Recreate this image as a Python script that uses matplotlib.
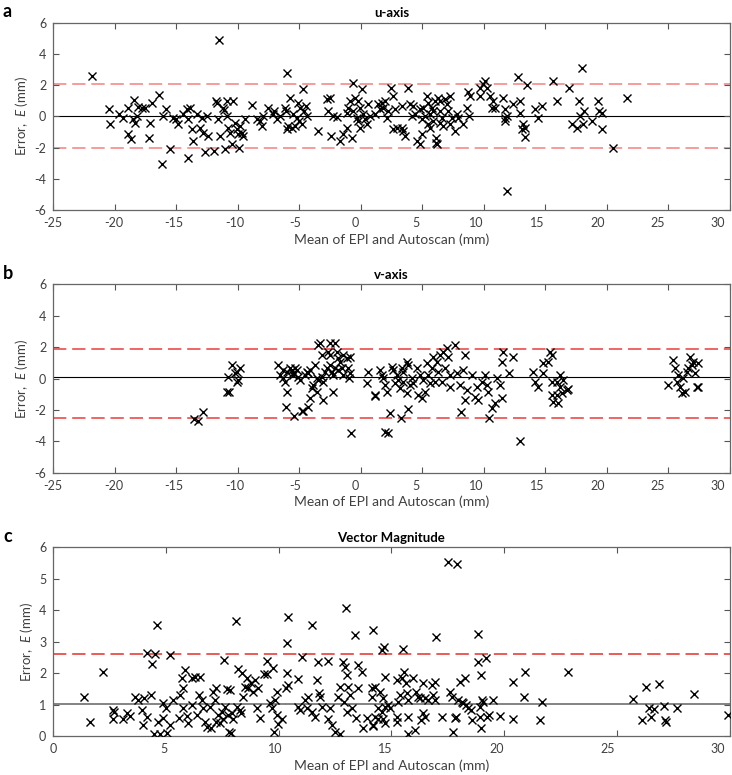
import numpy as np
import matplotlib
matplotlib.use('Agg')
import matplotlib.pyplot as plt
import matplotlib.transforms as mtransforms

plt.rcParams['font.family'] = ['Lato', 'DejaVu Sans']
plt.rcParams['mathtext.fontset'] = 'custom'
plt.rcParams['mathtext.it'] = 'Lato:italic'
plt.rcParams['mathtext.rm'] = 'Lato'
plt.rcParams['axes.unicode_minus'] = False

# ---- u-axis (panel a): mean of EPI and Autoscan vs. error, mm
u_mean = [-21.87, -11.52, -6.02, -20.43, -20.38, -19.62, -19.30, -18.89, -18.43, -18.92,
          -18.70, -18.48, -18.35, -18.21, -18.08, -17.80, -17.53, -16.99, -17.13, -17.18,
          -16.37, -16.10, -15.85, -16.12, -15.50, -15.23, -15.04, -14.82, -14.42, -14.15,
          -13.88, -14.01, -14.01, -13.74, -13.66, -13.28, -13.06, -12.87, -12.79, -12.66,
          -12.47, -12.38, -11.92, -11.76, -11.65, -11.57, -11.44, -11.22, -11.11, -10.89,
          -10.89, -11.03, -10.76, -10.62, -10.49, -10.35, -10.22, -10.08, -9.95, -9.86,
          -9.81, -9.67, -9.54, -9.40, -8.81, -8.46, -8.18, -8.05, -7.91, -7.51,
          -7.15, -7.05, -6.83, -6.56, -6.15, -6.07, -6.02, -5.88, -5.75, -5.61,
          -5.47, -5.34, -5.20, -5.07, -5.01, -4.93, -4.80, -4.61, -4.66, -4.47,
          -4.34, -3.44, -2.76, -2.49, -2.63, -2.44, -2.22, -1.95, -1.68, -1.41,
          -1.14, -1.14, -1.00, -0.87, -0.73, -0.65, -0.60, -0.46, -0.19, -0.05,
          0.08, -0.33, -0.19, -0.05, 0.22, 0.35, 0.49, 0.62, 0.76,
          1.16, 1.43, 1.57, 1.71, 1.84, 1.98, 2.25, 2.11, 2.44, 2.65,
          2.79, 2.92, 2.65, 3.33, 3.33, 3.47, 3.60, 3.87, 4.01, 4.14,
          4.28, 4.42, 4.55, 4.82, 4.96, 4.82, 4.96, 5.09, 5.23, 5.36,
          5.50, 5.50, 5.63, 5.63, 5.77, 5.91, 5.91, 6.04, 6.12, 6.12,
          6.18, 6.31, 6.45, 6.45, 6.45, 6.58, 6.72, 6.85, 6.99, 7.12,
          7.26, 7.40, 7.26, 7.67, 7.80, 7.94, 8.34, 8.62, 8.75, 8.89,
          8.83, 9.70, 9.92, 10.11, 9.70, 10.24, 10.51, 10.78, 10.65, 10.92,
          11.60, 11.73, 11.73, 11.73, 11.87, 11.92, 12.41, 12.82, 12.95, 12.95,
          13.09, 13.22, 13.36, 13.49, 13.36, 14.17, 14.44, 14.71, 15.66, 15.93,
          16.96, 17.15, 17.56, 17.77, 17.83, 18.02, 18.10, 18.16, 18.78, 19.32,
          19.40, 19.59, 19.65, 20.49, 21.68]
u_diff = [2.59, 4.87, 2.80, 0.45, -0.47, 0.13, -0.09, 0.56, 1.03, -1.11,
          -1.47, -0.19, -0.41, 0.02, 0.60, 0.51, 0.56, 0.88, -0.41, -1.37,
          1.35, 0.02, 0.45, -3.03, -2.12, -0.13, -0.19, -0.51, 0.13, 0.45,
          0.56, -0.19, -2.65, -0.83, -1.58, 0.13, -0.73, -0.09, -1.05, -2.26,
          0.02, -1.26, -2.22, 0.98, 0.88, -0.19, -1.26, 0.56, 0.41, 0.02,
          0.98, -2.12, -0.73, -1.05, -1.79, 0.98, -0.41, -0.83, -1.15, -2.01,
          -0.62, -1.05, -1.26, -0.19, 0.73, -0.19, -0.30, -0.62, 0.02, 0.56,
          0.13, 0.34, -0.19, 0.02, 0.56, 0.34, -0.83, -0.62, 1.20, -0.73,
          0.13, -0.62, -0.09, 0.88, -0.30, 0.56, -0.51, 0.34, 1.73, 0.66,
          0.02, -0.94, 1.09, 1.20, 0.34, -1.26, 0.02, -0.04, -1.58, -1.15,
          -0.73, 0.24, 0.56, 0.98, -1.37, 2.16, 0.34, 1.20, 0.98, 0.56,
          1.73, -0.13, -0.30, -0.73, 0.13, -0.19, -0.51, 0.77, 0.02,
          0.13, 0.77, 0.45, 0.88, 0.56, 0.98, 0.34, -0.09, 1.79, 1.30,
          0.45, -0.73, -0.83, -0.73, 0.66, -0.94, -1.26, 1.79, 0.77, 0.02,
          0.66, 0.13, -1.58, -1.79, -1.15, 0.45, -0.19, 0.56, 0.02, 1.30,
          0.88, -0.51, 0.13, -0.73, 0.56, 0.34, -0.30, 0.98, -1.37, -1.69,
          -1.79, 1.20, 0.98, 0.34, -0.41, -0.09, -0.62, 1.09, 0.77, 0.34,
          1.30, -0.09, -0.51, -0.94, 0.13, -0.09, -0.47, 0.56, 1.58, 1.30,
          0.02, 1.84, 2.05, 2.26, 1.30, 1.79, 1.30, 0.98, 0.56, 0.56,
          1.20, 0.45, -0.09, -0.30, 0.02, -4.79, 0.77, 2.52, 0.98, 0.24,
          -0.83, -0.51, -0.73, 2.01, -1.32, 0.45, -0.09, 0.66, 2.26, 0.98,
          1.84, -0.51, -0.73, 0.98, 0.02, 3.12, -0.51, 0.34, -0.30, 0.98,
          0.34, 0.24, -0.79, -2.01, 1.20]
u_bias = 0.04
u_loa = [2.09, -2.01]

# ---- v-axis (panel b)
v_mean = [-13.52, -13.20, -12.85, -10.89, -10.68, -10.76, -10.49, -10.22, -10.08, -10.03,
          -9.95, -9.81, -6.69, -6.56, -6.34, -6.29, -6.15, -6.02, -5.96, -6.07,
          -5.75, -5.61, -5.47, -5.34, -5.20, -5.47, -5.39, -5.07, -4.93, -4.53,
          -4.39, -4.25, -4.12, -4.80, -4.66, -4.12, -4.25, -3.98, -3.85, -3.71,
          -3.58, -3.44, -3.58, -3.44, -3.31, -3.17, -3.17, -3.04, -3.04, -2.90,
          -2.76, -2.63, -2.49, -2.49, -2.49, -2.36, -2.22, -2.22, -2.09, -2.09,
          -1.95, -1.82, -1.82, -1.68, -1.54, -1.41, -1.41, -1.14, -1.00, -0.87,
          -0.87, -0.92, -0.79, 0.49, 0.62, 1.17,
          1.16, 1.57, 1.71, 1.84, 1.98, 2.11, 1.98, 2.25, 2.38, 2.52,
          2.65, 2.79, 2.92, 3.06, 3.20, 3.25, 3.33, 3.47, 3.47, 3.74,
          3.74, 3.87, 3.87, 4.01, 4.14, 4.28, 4.55, 4.69, 4.82, 4.96,
          5.09, 5.23, 5.36, 5.50, 5.63, 5.77, 5.91, 6.04, 6.18, 6.31,
          6.45, 6.58, 6.72, 6.85, 6.99, 7.12, 7.26, 7.26, 7.67, 7.80,
          8.07, 8.13, 8.34, 8.48, 8.62, 8.48, 9.02, 9.29, 9.43, 9.56,
          9.83, 10.11, 10.24, 10.38, 10.46, 10.65, 10.92, 11.05, 11.33, 11.46,
          11.46, 11.60, 12.08, 12.36, 12.95, 14.04, 14.17, 14.44, 14.85, 14.85,
          15.26, 15.39, 15.53, 15.53, 15.53, 15.66, 15.93, 15.93, 16.07, 16.20,
          16.20, 16.34, 16.47, 16.75, 16.88, 25.01, 25.42, 25.55, 25.69, 25.82,
          25.96, 26.09, 26.23, 26.37, 26.50, 26.64, 26.77, 26.91, 27.04, 27.18,
          27.31, 27.45, 27.45]
v_diff = [-2.60, -2.69, -2.11, -0.84, -0.88, 0.12, 0.86, 0.33, 0.44, -0.20,
          -0.10, 0.65, 0.86, 0.22, 0.54, 0.01, -0.20, -0.88, 0.44, -1.79,
          0.65, 0.54, 0.33, 0.65, 0.54, 0.22, -2.39, 0.12, -0.10, 0.22,
          0.44, 0.33, 0.54, -2.05, -2.07, -1.26, -1.79, -0.63, -0.41, 0.86,
          0.01, -0.10, -0.84, 2.13, 2.24, 1.50, 0.12, -0.20, -1.37, 0.44,
          0.65, 1.71, 2.24, 1.50, 0.86, 0.44, 0.22, -0.84, 2.24, 0.65,
          1.71, 1.28, 0.54, 1.07, 0.65, 0.22, 1.50, 1.28, 0.65, 1.39,
          0.33, 0.05, -3.49, -0.31, 0.44, -1.05,
          -1.09, 0.54, 0.22, 0.01, -0.41, -0.84, -3.39, -3.49, -2.22, 0.75,
          0.54, -0.31, 0.22, -0.10, -0.63, -2.54, 0.65, 0.44, -0.20, -0.94,
          1.07, -1.96, 0.86, -0.41, 0.01, -0.31, 0.65, -1.05, 0.22, -1.26,
          -0.10, -0.84, 0.97, 0.22, -0.31, 0.65, 1.39, -0.20, 1.07, 0.44,
          1.50, -0.20, 1.71, 0.65, 1.92, 1.39, 0.22, -0.52, 2.13, 0.33,
          -0.41, -2.11, 0.54, 1.50, -0.73, -1.37, 0.22, -1.16, -0.52, -1.37,
          -0.20, 0.22, -0.41, -0.84, -2.54, -1.90, -1.58, 0.01, -0.41, -1.26,
          1.07, 1.71, 0.33, 1.39, -3.96, 0.44, -0.20, -0.56, 0.33, 0.97,
          1.07, 1.71, 1.50, -0.20, -1.05, -1.48, -0.20, -1.05, -1.58, 0.22,
          -0.52, -0.94, -0.10, -0.73, -0.67, -0.41, 1.18, 0.65, -0.20, 0.22,
          -0.52, -0.94, 0.01, -0.84, 0.44, 0.65, 1.39, 0.86, 1.07, 0.33,
          -0.52, 0.97, -0.52]
v_bias = 0.12
v_loa = [1.88, -2.49]

# ---- vector magnitude (panel c)
m_mean = [1.37, 1.63, 2.22, 2.67, 2.70, 2.67, 3.08, 3.26, 3.41, 3.63,
          3.78, 3.92, 3.97, 4.03, 4.15, 4.32, 4.37, 4.15, 4.52, 4.62,
          4.47, 4.66, 4.74, 4.89, 4.89, 4.99, 5.06, 5.18, 5.18, 5.33,
          5.58, 5.62, 5.70, 5.74, 5.77, 5.84, 5.92, 5.99, 6.14, 6.14,
          6.29, 6.36, 6.48, 6.51, 6.58, 6.66, 6.73, 6.81, 6.95, 7.02,
          7.10, 7.17, 7.24, 7.24, 7.32, 7.40, 7.47, 7.52, 7.57, 7.61,
          7.69, 7.77, 7.81, 7.84, 7.87, 7.94, 7.99, 8.11, 8.14, 8.21,
          8.28, 8.31, 8.39, 8.43, 8.51, 8.58, 8.65, 8.76, 8.87, 8.95,
          9.02, 9.10, 9.17, 9.36, 9.47, 9.50, 9.61, 9.69, 9.76, 9.79,
          9.84, 9.91, 9.91, 9.98, 10.13, 10.32, 10.35, 10.39, 10.43, 10.43,
          10.84, 10.87, 10.94, 11.02, 11.17, 11.24, 11.31, 11.49, 11.46, 11.61,
          11.71, 11.76, 11.80, 11.83, 11.91, 12.20, 12.20, 12.28, 12.35, 12.50,
          12.65, 12.72, 12.72, 12.87, 12.90, 12.94, 12.98, 13.01, 13.04, 13.09,
          13.16, 13.24, 13.38, 13.43, 13.53, 13.53, 13.68, 13.75, 13.90, 14.12,
          14.17, 14.12, 14.20,
          14.57, 14.67, 14.27, 14.49, 14.71, 14.64, 14.42, 14.57, 14.71, 14.86,
          14.93, 14.27, 14.42, 14.64, 14.71, 14.20, 15.23, 15.31, 15.38, 15.45,
          15.53, 15.57, 15.64, 15.68, 15.75, 15.23, 15.23, 15.75, 15.75, 15.97,
          16.05, 16.11, 16.19, 16.26, 16.33, 16.39, 16.42, 16.49, 16.49, 16.63,
          16.79, 16.86, 16.93, 16.98, 16.93, 17.23, 17.52, 17.60, 17.67, 17.75,
          17.82, 17.92, 17.86, 17.97, 18.04, 18.11, 18.19, 18.26, 18.33, 18.41,
          18.51, 18.56, 18.82, 18.85, 18.93, 18.93, 18.96, 19.00, 18.97, 19.08,
          19.19, 19.22, 19.34, 19.52, 19.82, 20.41, 20.41, 20.88, 20.92, 21.59,
          21.66, 22.85, 25.70, 26.10, 26.29, 26.44, 26.50, 26.64, 26.85, 27.10,
          27.13, 27.18, 27.65, 28.42, 29.94]
m_diff = [1.25, 0.46, 2.02, 0.83, 0.77, 0.54, 0.54, 0.72, 0.65, 1.25,
          1.14, 0.83, 0.35, 1.22, 2.63, 1.30, 2.29, 0.61, 2.60, 3.53,
          0.08, 0.46, 0.08, 1.04, 0.56, 0.90, 0.11, 2.58, 0.35, 1.14,
          0.56, 1.30, 1.83, 1.52, 0.88, 2.10, 0.65, 0.40, 1.83, 0.99,
          1.89, 0.67, 1.30, 1.89, 1.14, 0.88, 0.46, 0.30, 0.93, 0.24,
          1.41, 1.14, 1.52, 0.46, 0.67, 0.40, 0.77, 0.54, 2.42, 0.93,
          1.49, 0.67, 0.14, 1.46, 0.11, 0.72, 0.54, 3.66, 0.93, 2.13,
          0.83, 0.72, 2.01, 1.25, 1.57, 1.83, 1.52, 1.67, 1.41, 1.78,
          0.88, 1.52, 0.56, 1.98, 1.98, 2.38, 1.04, 0.88, 2.15, 0.14,
          1.14, 1.41, 0.67, 0.37, 0.54, 1.52, 2.97, 1.99, 3.79, 1.62,
          1.81, 0.93, 0.83, 2.52, 1.14, 0.88, 1.25, 3.53, 0.77, 0.61,
          1.78, 2.36, 1.36, 1.25, 0.93, 2.40, 0.54, 0.90, 0.35, 0.14,
          1.25, 1.57, 0.08, 2.36, 1.09, 2.20, 4.08, 1.94, 0.77, 1.57,
          1.30, 0.88, 3.21, 0.56, 1.52, 2.26, 2.05, 0.24, 0.56, 1.52,
          3.37, 1.25, 0.35,
          2.73, 2.84, 1.57, 1.41, 1.89, 1.20, 0.88, 0.77, 0.93, 0.99,
          0.88, 0.61, 0.54, 0.54, 0.40, 0.33, 1.78, 1.09, 1.30, 1.83,
          2.77, 2.05, 1.67, 1.36, 1.14, 0.61, 0.46, 0.59, 0.08, 1.85,
          0.19, 1.41, 1.25, 1.20, 0.51, 1.67, 0.72, 1.20, 0.61, 1.14,
          1.62, 1.30, 1.73, 3.16, 1.14, 0.59, 5.54, 1.41, 1.25, 0.14,
          0.56, 5.47, 0.61, 1.14, 1.73, 1.09, 1.04, 1.83, 0.99, 0.88,
          0.83, 0.51, 3.23, 2.36, 0.61, 0.93, 1.94, 1.14, 0.26, 1.09,
          2.47, 0.61, 0.67, 1.14, 0.65, 1.71, 0.54, 1.25, 2.02, 0.51,
          1.07, 2.02, 1.17, 0.51, 1.55, 0.90, 0.61, 0.86, 1.64, 0.96,
          0.51, 0.43, 0.90, 1.34, 0.67]
m_bias = 1.02
m_loa = [2.61]

panels = [
    ('a', 'u-axis', u_mean, u_diff, u_bias, u_loa, (-25, 30), (-6, 6), np.arange(-6, 7, 2), 'black', 0.8, '#f28b8b'),
    ('b', 'v-axis', v_mean, v_diff, v_bias, v_loa, (-25, 30), (-6, 6), np.arange(-6, 7, 2), 'black', 0.8, '#ee4c4c'),
    ('c', 'Vector Magnitude', m_mean, m_diff, m_bias, m_loa, (0, 30), (0, 6), np.arange(0, 7, 1), '#7a7a7a', 1.3, '#e8403a'),
]

# axes boxes in figure fractions (left, bottom, width, height)
boxes = [(0.0727, 0.729, 0.924, 0.2417),
         (0.0727, 0.390, 0.924, 0.2430),
         (0.0727, 0.0503, 0.924, 0.2435)]

fig = plt.figure(figsize=(7.32, 7.75), dpi=100)

for (letter, title, xm, yd, bias, loa, xlim, ylim, yticks, mcol, mlw, dcol), box in zip(panels, boxes):
    ax = fig.add_axes(box)
    ax.axhline(bias, color=mcol, lw=mlw, zorder=1)
    for l in loa:
        ax.axhline(l, color=dcol, lw=1.2, linestyle=(0, (8, 3.5)), zorder=1)
    ax.plot(xm, yd, linestyle='none', marker='x', color='black', ms=6, mew=1.0, zorder=3)
    ax.set_xlim(*xlim)
    ax.set_ylim(*ylim)
    xt = np.arange(xlim[0], xlim[1] + 1, 5)
    ax.set_xticks(xt)
    ax.set_yticks(yticks)
    ax.tick_params(direction='in', top=True, right=True, length=4, width=0.8,
                   colors='#555555', labelcolor='#404040', labelsize=9, pad=5)
    for s in ax.spines.values():
        s.set_color('#666666')
        s.set_linewidth(0.9)
    # the original's x tick labels creep slightly left of their ticks
    width_px = box[2] * 732
    for v, tick in zip(xt, ax.xaxis.get_major_ticks()):
        dx = -0.017 * (v - xlim[0]) / (xlim[1] - xlim[0]) * width_px
        tick.label1.set_transform(tick.label1.get_transform() +
                                  mtransforms.ScaledTranslation(dx / 100, 0, fig.dpi_scale_trans))
    ax.set_title(title, fontsize=9.5, fontweight='bold', pad=4)
    ax.set_ylabel('Error,  $\\mathit{E}$ (mm)', fontsize=9.5, color='#404040', labelpad=3)
    ax.set_xlabel('Mean of EPI and Autoscan (mm)', fontsize=10, color='#404040', labelpad=3)
    top = box[1] + box[3]
    fig.text(0.004, top + 0.0145, letter, fontsize=13, fontweight='bold', va='center', ha='left')

fig.savefig('out.png', dpi=100)
